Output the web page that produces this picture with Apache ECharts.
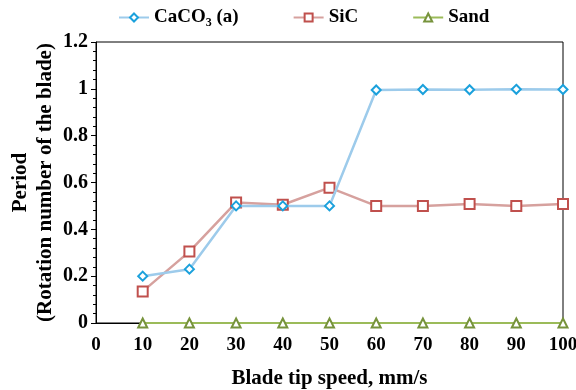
<!DOCTYPE html>
<html>
<head>
<meta charset="utf-8">
<script src="https://cdn.jsdelivr.net/npm/echarts@6/dist/echarts.min.js"></script>
<style>
  html, body { margin: 0; padding: 0; background: #fff; }
  #main { width: 576px; height: 390px; }
</style>
</head>
<body>
<div id="main"></div>
<script>
const speeds = [10, 20, 30, 40, 50, 60, 70, 80, 90, 100];
const caco3 = [0.2, 0.23, 0.5, 0.5, 0.5, 0.995, 0.997, 0.996, 0.998, 0.997];
const sic = [0.135, 0.305, 0.515, 0.505, 0.578, 0.5, 0.5, 0.508, 0.5, 0.508];
const sand = [0, 0, 0, 0, 0, 0, 0, 0, 0, 0];
const seriesNames = ['CaCO3 (a)', 'SiC', 'Sand'];

const font = 'Liberation Serif';

function pairs(vals) {
    return speeds.map((s, i) => [s, vals[i]]);
}

const myChart = echarts.init(document.getElementById('main'));

const option = {
    animation: false,
    textStyle: { fontFamily: font },
    legend: {
        top: 8,
        left: 118,
        padding: 0,
        itemGap: 54,
        itemWidth: 30,
        itemHeight: 10,
        data: seriesNames,
        textStyle: {
            fontFamily: font,
            fontWeight: 'bold',
            fontSize: 19,
            color: '#000',
            rich: {
                sub: { fontFamily: font, fontWeight: 'bold', fontSize: 12, verticalAlign: 'bottom', padding: [10, 0, 0, 0], color: '#000' }
            }
        },
        formatter: (name) => name === 'CaCO3 (a)' ? 'CaCO{sub|3} (a)' : name
    },
    grid: {
        left: 96,
        right: 13,
        top: 42,
        bottom: 67,
        outerBoundsMode: 'none',
        containLabel: false,
        show: true,
        borderColor: '#000',
        borderWidth: 1
    },
    xAxis: {
        type: 'value',
        min: 0,
        max: 100,
        interval: 10,
        name: 'Blade tip speed, mm/s',
        nameLocation: 'middle',
        nameGap: 45,
        nameMoveOverlap: false,
        nameTextStyle: { fontFamily: font, fontWeight: 'bold', fontSize: 21, color: '#000' },
        axisLine: { onZero: false, lineStyle: { color: '#000', width: 1 } },
        axisTick: { show: false },
        splitLine: { show: false },
        axisLabel: { fontFamily: font, fontWeight: 'bold', fontSize: 19, color: '#000', margin: 13 }
    },
    yAxis: {
        type: 'value',
        min: 0,
        max: 1.2,
        interval: 0.2,
        name: 'Period\n(Rotation number of the blade)',
        nameLocation: 'middle',
        nameGap: 38,
        nameMoveOverlap: false,
        nameTextStyle: { fontFamily: font, fontWeight: 'bold', fontSize: 21, color: '#000', lineHeight: 25 },
        axisLine: { show: true, lineStyle: { color: '#000', width: 1 } },
        axisTick: { show: true, length: 5, lineStyle: { color: '#000' } },
        minorTick: { show: true, splitNumber: 5, length: 3, lineStyle: { color: '#000' } },
        splitLine: { show: false },
        axisLabel: {
            fontFamily: font, fontWeight: 'bold', fontSize: 20, color: '#000', margin: 8,
            formatter: (v) => String(Math.round(v * 10) / 10)
        }
    },
    series: [
        {
            name: seriesNames[0],
            type: 'line',
            data: pairs(caco3),
            symbol: 'diamond',
            symbolSize: 9,
            lineStyle: { color: '#9dcbeb', width: 2.5 },
            itemStyle: { color: '#fff', borderColor: '#1ba1dc', borderWidth: 2 },
            z: 3
        },
        {
            name: seriesNames[1],
            type: 'line',
            data: pairs(sic),
            symbol: 'rect',
            symbolSize: 10,
            lineStyle: { color: '#d6a19e', width: 2.5 },
            itemStyle: { color: '#fff', borderColor: '#c0504d', borderWidth: 2 },
            z: 2
        },
        {
            name: seriesNames[2],
            type: 'line',
            data: pairs(sand),
            symbol: 'triangle',
            symbolSize: 9,
            lineStyle: { color: '#9bbb59', width: 2 },
            itemStyle: { color: '#fff', borderColor: '#77933c', borderWidth: 2 },
            z: 4
        }
    ]
};

myChart.setOption(option);
</script>
</body>
</html>
